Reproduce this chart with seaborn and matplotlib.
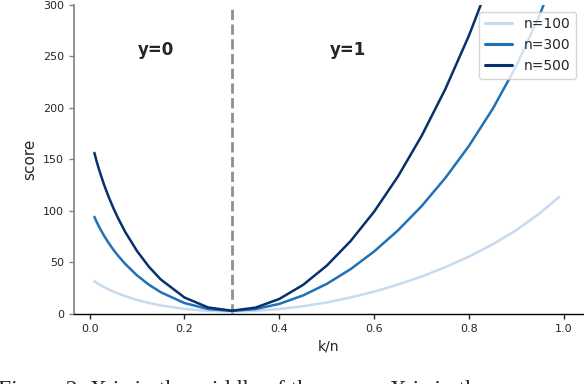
import numpy as np
import pandas as pd
import matplotlib
matplotlib.use("Agg")
import matplotlib.pyplot as plt
import seaborn as sns

# ---- data ----
ratio = [0.01, 0.015, 0.02, 0.03, 0.04, 0.05, 0.06, 0.075, 0.10, 0.125, 0.15, 0.20, 0.25,
         0.30, 0.35, 0.40, 0.45, 0.50, 0.55, 0.60, 0.65, 0.70, 0.75, 0.80, 0.85, 0.90,
         0.95, 0.97, 0.99]
score_n100 = [31.8, 30.3, 28.8, 26.2, 23.9, 21.8, 19.9, 17.3, 13.6, 10.7, 8.3, 4.9, 3.0,
              2.4, 3.1, 4.8, 7.5, 11.2, 16.0, 21.7, 28.5, 36.3, 45.4, 55.7, 67.6, 81.4,
              98.0, 105.8, 113.5]
score_n300 = [94.2, 89.1, 84.5, 76.2, 68.9, 62.4, 56.5, 48.6, 37.4, 28.4, 21.1, 10.6, 4.8,
              3.0, 4.8, 9.8, 18.0, 29.2, 43.4, 60.7, 81.0, 104.6, 131.9, 163.1, 199.0, 240.8,
              291.2, 315.1, 343.3]
score_n500 = [156.3, 147.6, 139.9, 125.9, 113.7, 102.8, 92.9, 79.6, 61.0, 45.8, 33.5, 16.0, 6.3,
              3.2, 6.2, 14.6, 28.2, 46.9, 70.6, 99.3, 133.3, 172.7, 218.1, 270.2, 330.1, 399.9,
              484.0, 524.2, 571.5]
series_labels = ["n=100", "n=300", "n=500"]
split_value = 0.3
region_labels = ["y=0", "y=1"]
x_ticks = [0.0, 0.2, 0.4, 0.6, 0.8, 1.0]
y_ticks = [0, 50, 100, 150, 200, 250, 300]
caption = "Figure 2: X is in the middle of the range, X is in the"

df = pd.concat([
    pd.DataFrame({"k/n": ratio, "score": vals, "n": lab})
    for vals, lab in zip([score_n100, score_n300, score_n500], series_labels)
], ignore_index=True)

colors = {"n=100": "#c6dbef", "n=300": "#2171b5", "n=500": "#08306b"}

sns.set_style("white")
plt.rcParams["font.family"] = ["DejaVu Sans"]

fig = plt.figure(figsize=(5.84, 3.84), dpi=100)
ax = fig.add_axes([0.1267, 0.1823, 0.8713, 0.8055])

sns.lineplot(data=df, x="k/n", y="score", hue="n", palette=colors,
             linewidth=1.8, ax=ax, sort=True, errorbar=None)

ax.axvline(split_value, color="#8f8f8f", linestyle="--", linewidth=2, zorder=0)

ax.text(0.14, 256, region_labels[0], ha="center", va="center",
        fontsize=12, fontweight="bold")
ax.text(0.544, 256, region_labels[1], ha="center", va="center",
        fontsize=12, fontweight="bold")

ax.set_xlim(-0.033, 1.04)
ax.set_ylim(0, 300)
ax.set_xticks(x_ticks)
ax.set_yticks(y_ticks)
ax.set_xticklabels([f"{t:.1f}" for t in x_ticks])
ax.tick_params(axis="both", labelsize=8, length=3.5, width=1, direction="out",
               bottom=True, left=True)
ax.tick_params(axis="y", color="#808080")
ax.set_xlabel("k/n", fontsize=10)
ax.set_ylabel("score", fontsize=11)

for s in ["top", "right"]:
    ax.spines[s].set_visible(False)
ax.spines["left"].set_color("#808080")
ax.spines["left"].set_linewidth(1.2)
ax.spines["bottom"].set_color("black")
ax.spines["bottom"].set_linewidth(1.0)

leg = ax.legend(loc="upper right", fontsize=10, frameon=True, framealpha=0.8,
                fancybox=True)
leg.get_frame().set_edgecolor("#cccccc")
for line in leg.get_lines():
    line.set_linewidth(2.2)

fig.text(-0.003, -0.031, caption, fontsize=17, family=["Liberation Serif", "DejaVu Serif"],
         ha="left", va="baseline")

fig.savefig("out.png", dpi=100)
